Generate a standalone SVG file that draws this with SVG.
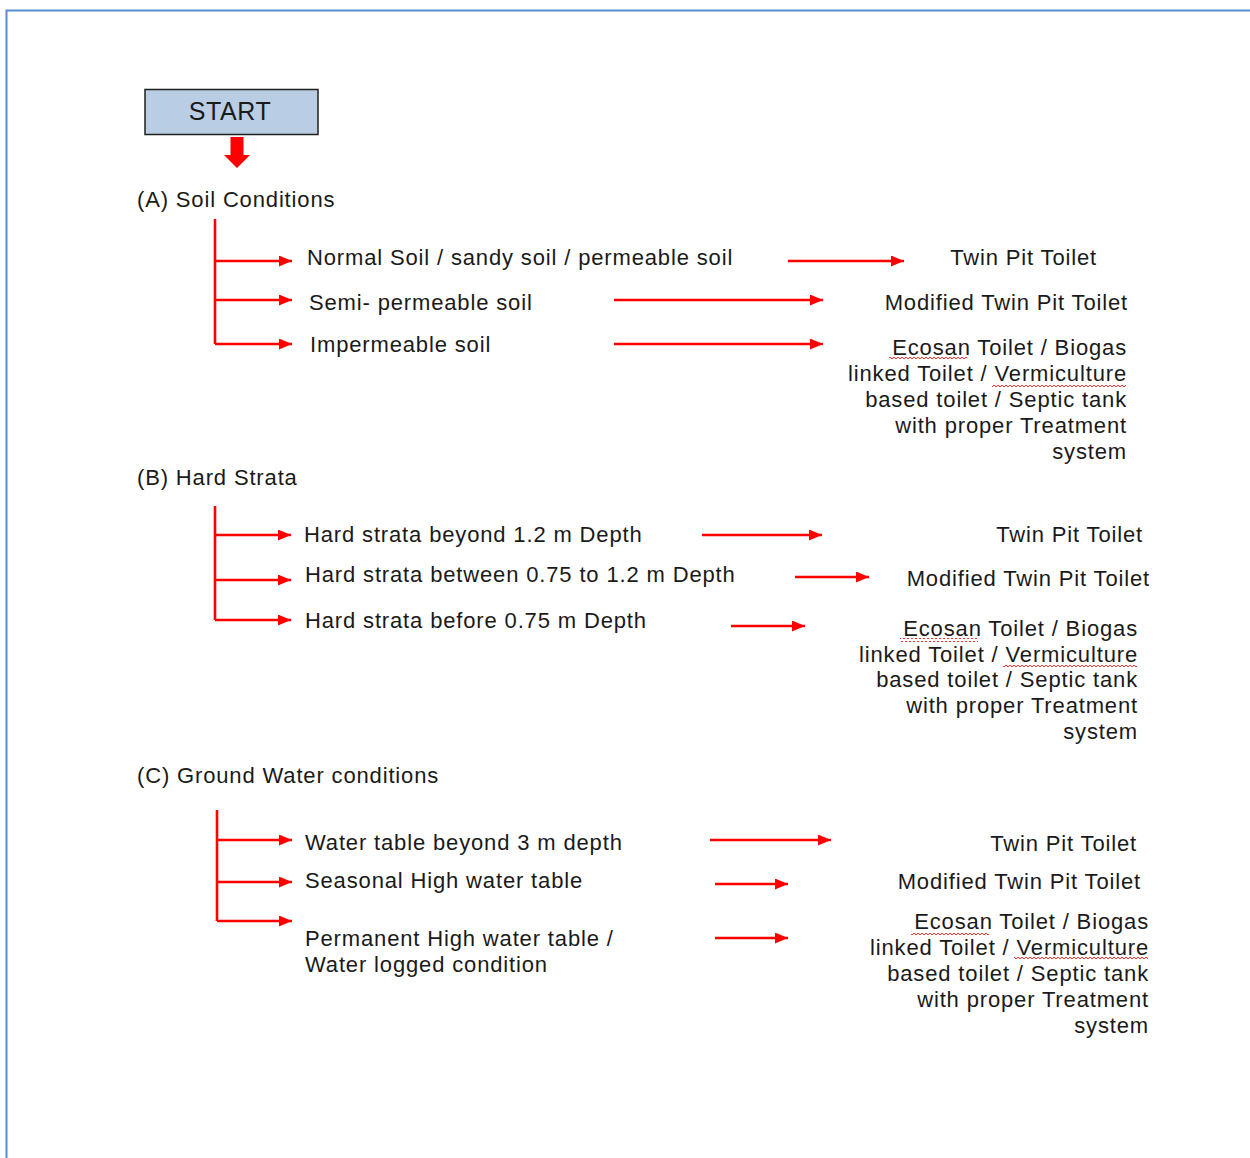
<svg xmlns="http://www.w3.org/2000/svg" width="1250" height="1158" viewBox="0 0 1250 1158">
<style>
.t{font-family:"Liberation Sans",Arial,sans-serif;font-size:22px;letter-spacing:0.85px;fill:#1a1a1a}
.e{text-anchor:end}
.c{fill:none;stroke:#ff0000;stroke-width:2.6}
.a{marker-end:url(#ah)}
.sq{fill:url(#wave)}
</style>
<defs>
<marker id="ah" markerUnits="userSpaceOnUse" markerWidth="13" markerHeight="11" refX="13" refY="5.5" orient="auto">
<path d="M0,0 L13,5.5 L0,11 Z" fill="#ff0000"/>
</marker>
<pattern id="wave" patternUnits="userSpaceOnUse" width="4" height="4">
<path d="M0,3 L2,1 L4,3" fill="none" stroke="#ff1a1a" stroke-width="0.9"/>
</pattern>
</defs>
<rect width="1250" height="1158" fill="#ffffff"/>
<path d="M6.5,1158 V10.5 H1250" fill="none" stroke="#5b8bd0" stroke-width="2"/>

<g id="start">
<rect x="145" y="89.5" width="173" height="45" fill="#b9cde5" stroke="#1f1f1f" stroke-width="1.5"/>
<text class="t" x="230" y="120" text-anchor="middle" style="font-size:25px;letter-spacing:0.6px">START</text>
</g>

<g id="connectors">
<polygon points="230.5,137 243.5,137 243.5,155 250,155 237,168 224,155 230.5,155" fill="#ff0000"/>
<!-- A -->
<path class="c" d="M215,219 V344"/>
<path class="c a" d="M215,261 H292"/>
<path class="c a" d="M215,300 H292"/>
<path class="c a" d="M215,344 H292"/>
<path class="c a" d="M788,261 H904"/>
<path class="c a" d="M614,300 H823"/>
<path class="c a" d="M614,344 H823"/>
<!-- B -->
<path class="c" d="M215,506 V620"/>
<path class="c a" d="M215,535 H291"/>
<path class="c a" d="M215,580 H291"/>
<path class="c a" d="M215,620 H291"/>
<path class="c a" d="M702,535 H822"/>
<path class="c a" d="M795,577 H869"/>
<path class="c a" d="M731,626 H805"/>
<!-- C -->
<path class="c" d="M217,810 V921"/>
<path class="c a" d="M217,840 H292"/>
<path class="c a" d="M217,882 H292"/>
<path class="c a" d="M217,921 H292"/>
<path class="c a" d="M710,840 H831"/>
<path class="c a" d="M715,884 H788"/>
<path class="c a" d="M715,938 H788"/>
</g>

<g id="sectionA">
<text class="t" x="137" y="207">(A) Soil Conditions</text>
</g>
<g id="optA1"><text class="t" x="307" y="265">Normal Soil / sandy soil / permeable soil</text></g>
<g id="optA2"><text class="t" x="309" y="310">Semi- permeable soil</text></g>
<g id="optA3"><text class="t" x="310" y="352">Impermeable soil</text></g>
<g id="resA1"><text class="t e" x="1097" y="265">Twin Pit Toilet</text></g>
<g id="resA2"><text class="t e" x="1128" y="310">Modified Twin Pit Toilet</text></g>
<g id="resA3">
<text class="t e"><tspan x="1127" y="355">Ecosan Toilet / Biogas</tspan><tspan x="1127" y="381">linked Toilet / Vermiculture</tspan><tspan x="1127" y="407">based toilet / Septic tank</tspan><tspan x="1127" y="433">with proper  Treatment</tspan><tspan x="1127" y="459">system</tspan></text>
<rect class="sq" x="889" y="357" width="78" height="4"/>
<rect class="sq" x="992" y="383" width="134" height="4"/>
</g>

<g id="sectionB">
<text class="t" x="137" y="485">(B) Hard Strata</text>
</g>
<g id="optB1"><text class="t" x="304" y="542">Hard strata beyond 1.2 m Depth</text></g>
<g id="optB2"><text class="t" x="305" y="582">Hard strata between 0.75 to 1.2 m Depth</text></g>
<g id="optB3"><text class="t" x="305" y="628">Hard strata before 0.75 m Depth</text></g>
<g id="resB1"><text class="t e" x="1143" y="542">Twin Pit Toilet</text></g>
<g id="resB2"><text class="t e" x="1150" y="586">Modified Twin Pit Toilet</text></g>
<g id="resB3">
<text class="t e"><tspan x="1138" y="636">Ecosan Toilet / Biogas</tspan><tspan x="1138" y="662">linked Toilet / Vermiculture</tspan><tspan x="1138" y="687">based toilet / Septic tank</tspan><tspan x="1138" y="713">with proper  Treatment</tspan><tspan x="1138" y="739">system</tspan></text>
<rect class="sq" x="900" y="638" width="78" height="4"/>
<rect class="sq" x="1003" y="664" width="134" height="4"/>
</g>

<g id="sectionC">
<text class="t" x="137" y="783">(C) Ground Water  conditions</text>
</g>
<g id="optC1"><text class="t" x="305" y="850">Water table beyond 3  m depth</text></g>
<g id="optC2"><text class="t" x="305" y="888">Seasonal High  water table</text></g>
<g id="optC3">
<text class="t"><tspan x="305" y="946">Permanent High water table /</tspan><tspan x="305" y="972">Water logged  condition</tspan></text>
</g>
<g id="resC1"><text class="t e" x="1137" y="851">Twin Pit Toilet</text></g>
<g id="resC2"><text class="t e" x="1141" y="889">Modified Twin Pit Toilet</text></g>
<g id="resC3">
<text class="t e"><tspan x="1149" y="929">Ecosan Toilet / Biogas</tspan><tspan x="1149" y="955">linked Toilet / Vermiculture</tspan><tspan x="1149" y="981">based toilet / Septic tank</tspan><tspan x="1149" y="1007">with proper  Treatment</tspan><tspan x="1149" y="1033">system</tspan></text>
<rect class="sq" x="911" y="931" width="78" height="4"/>
<rect class="sq" x="1014" y="957" width="134" height="4"/>
</g>
</svg>
